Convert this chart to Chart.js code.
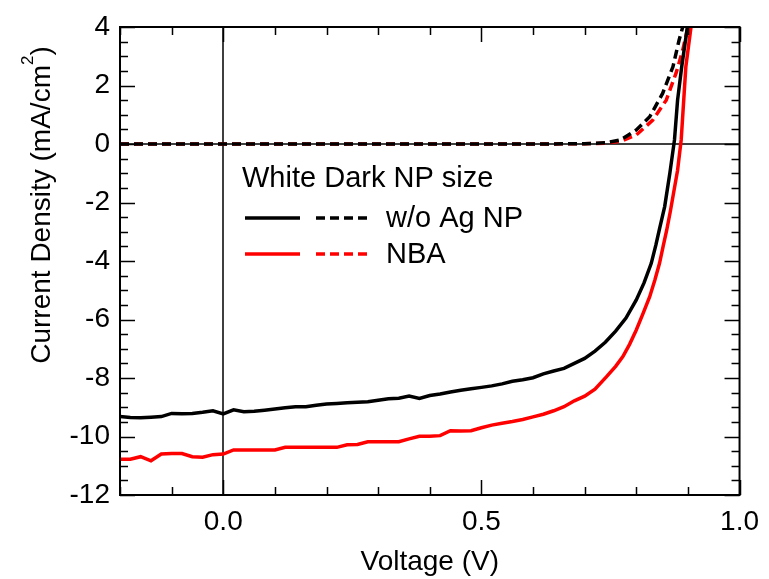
<!DOCTYPE html>
<html>
<head>
<meta charset="utf-8">
<script src="https://cdn.jsdelivr.net/npm/chart.js@4.4.1/dist/chart.umd.min.js"></script>
<style>
  html, body { margin: 0; padding: 0; background: #fff; }
</style>
</head>
<body>
<canvas id="jvChart" width="769" height="579"></canvas>
<script>
// J-V curves (V in volts, J in mA/cm2)
const vBlackLight = [-0.2, -0.18, -0.16, -0.14, -0.12, -0.10, -0.08, -0.06, -0.04, -0.02, 0.00, 0.02, 0.04, 0.06, 0.08, 0.10, 0.12, 0.14, 0.16, 0.18, 0.20, 0.22, 0.24, 0.26, 0.28, 0.30, 0.32, 0.34, 0.36, 0.38, 0.40, 0.42, 0.44, 0.46, 0.48, 0.50, 0.52, 0.54, 0.56, 0.58, 0.60, 0.62, 0.64, 0.66, 0.68, 0.70, 0.72, 0.74, 0.76, 0.78, 0.80, 0.815, 0.829, 0.838, 0.845, 0.855, 0.865, 0.874, 0.88, 0.888, 0.899];
const jBlackLight = [-9.32, -9.35, -9.36, -9.34, -9.32, -9.21, -9.22, -9.21, -9.17, -9.12, -9.23, -9.09, -9.15, -9.14, -9.10, -9.06, -9.02, -8.98, -8.98, -8.93, -8.89, -8.87, -8.85, -8.83, -8.81, -8.76, -8.71, -8.69, -8.62, -8.70, -8.60, -8.55, -8.48, -8.42, -8.37, -8.32, -8.27, -8.20, -8.11, -8.06, -7.99, -7.86, -7.76, -7.67, -7.50, -7.33, -7.08, -6.78, -6.40, -5.95, -5.33, -4.75, -4.08, -3.45, -2.90, -2.14, -1.00, 0.14, 1.50, 2.64, 4.00];

const vRedLight = [-0.2, -0.18, -0.16, -0.14, -0.12, -0.10, -0.08, -0.06, -0.04, -0.02, 0.00, 0.02, 0.04, 0.06, 0.08, 0.10, 0.12, 0.14, 0.16, 0.18, 0.20, 0.22, 0.24, 0.26, 0.28, 0.30, 0.32, 0.34, 0.36, 0.38, 0.40, 0.42, 0.44, 0.46, 0.48, 0.50, 0.52, 0.54, 0.56, 0.58, 0.60, 0.62, 0.64, 0.66, 0.68, 0.70, 0.72, 0.742, 0.76, 0.774, 0.787, 0.80, 0.813, 0.826, 0.836, 0.845, 0.852, 0.859, 0.866, 0.873, 0.880, 0.887, 0.896, 0.906];
const jRedLight = [-10.78, -10.78, -10.69, -10.83, -10.60, -10.58, -10.58, -10.69, -10.71, -10.62, -10.60, -10.46, -10.46, -10.46, -10.46, -10.46, -10.37, -10.37, -10.37, -10.37, -10.37, -10.37, -10.28, -10.27, -10.18, -10.18, -10.18, -10.18, -10.08, -9.99, -9.99, -9.97, -9.80, -9.81, -9.80, -9.70, -9.61, -9.55, -9.49, -9.42, -9.33, -9.24, -9.12, -8.98, -8.78, -8.62, -8.38, -7.96, -7.60, -7.27, -6.85, -6.36, -5.80, -5.22, -4.65, -4.08, -3.50, -2.94, -2.30, -1.60, -0.90, 0.14, 2.64, 4.00];

const vBlackDark = [-0.2, 0.0, 0.2, 0.4, 0.6, 0.70, 0.74, 0.77, 0.80, 0.826, 0.851, 0.871, 0.883, 0.89];
const jBlackDark = [0, 0, 0, 0, 0, 0.01, 0.04, 0.14, 0.48, 0.93, 1.73, 2.64, 3.56, 4.00];

const vRedDark = [-0.2, 0.0, 0.2, 0.4, 0.6, 0.70, 0.74, 0.77, 0.80, 0.832, 0.858, 0.877, 0.89, 0.90];
const jRedDark = [0, 0, 0, 0, 0, 0.01, 0.03, 0.09, 0.31, 0.82, 1.50, 2.42, 3.21, 4.00];

const xTickValues = [0.0, 0.5, 1.0];
const legendTitle = 'White Dark NP size';
const seriesNames = ['w/o Ag NP', 'NBA'];
const seriesColors = ['#000000', '#ff0000'];

const FONT = '"Liberation Sans", Arial, Helvetica, sans-serif';
const DASH = [9, 5];
const LW = 3.5;

function pts(xs, ys) {
  return xs.map((x, i) => ({ x: x, y: ys[i] }));
}

// zero lines under the curves, frame / ticks / legend / titles on top
const decor = {
  id: 'decor',
  beforeDatasetsDraw(chart) {
    const { ctx, chartArea: a, scales: { x, y } } = chart;
    ctx.save();
    ctx.strokeStyle = '#000';
    ctx.lineWidth = 1.5;
    ctx.beginPath();
    const x0 = Math.round(x.getPixelForValue(0));
    const y0 = Math.round(y.getPixelForValue(0));
    ctx.moveTo(x0, a.top); ctx.lineTo(x0, a.bottom);
    ctx.moveTo(a.left, y0); ctx.lineTo(a.right, y0);
    ctx.stroke();
    ctx.restore();
  },
  afterDatasetsDraw(chart) {
    const { ctx, chartArea: a, scales: { x, y } } = chart;
    ctx.save();
    ctx.strokeStyle = '#000';
    ctx.lineWidth = 2;
    ctx.strokeRect(a.left, a.top, a.right - a.left, a.bottom - a.top);

    // inward ticks, mirrored on top and right
    ctx.lineWidth = 1.5;
    ctx.beginPath();
    for (let k = -2; k <= 10; k++) {
      const px = Math.round(x.getPixelForValue(k / 10)) + 0.5;
      const len = (k % 5 === 0) ? 15 : 8;
      ctx.moveTo(px, a.bottom); ctx.lineTo(px, a.bottom - len);
      ctx.moveTo(px, a.top); ctx.lineTo(px, a.top + len);
    }
    for (let k = -24; k <= 8; k++) {
      const py = Math.round(y.getPixelForValue(k / 2)) + 0.5;
      const len = (k % 4 === 0) ? 15 : 8;
      ctx.moveTo(a.left, py); ctx.lineTo(a.left + len, py);
      ctx.moveTo(a.right, py); ctx.lineTo(a.right - len, py);
    }
    ctx.stroke();

    // legend
    ctx.fillStyle = '#000';
    ctx.font = '29px ' + FONT;
    ctx.textAlign = 'left';
    ctx.textBaseline = 'alphabetic';
    ctx.fillText(legendTitle, 242, 187);
    const rows = [218, 254];
    ctx.lineWidth = LW;
    seriesNames.forEach((name, i) => {
      const ry = rows[i];
      ctx.strokeStyle = seriesColors[i];
      ctx.setLineDash([]);
      ctx.beginPath(); ctx.moveTo(245, ry); ctx.lineTo(300, ry); ctx.stroke();
      ctx.setLineDash(DASH);
      ctx.beginPath(); ctx.moveTo(316, ry); ctx.lineTo(372, ry); ctx.stroke();
      ctx.setLineDash([]);
      ctx.fillStyle = '#000';
      ctx.fillText(name, 386, ry + 9);
    });

    // axis titles
    ctx.font = '28px ' + FONT;
    ctx.textAlign = 'center';
    ctx.fillText('Voltage (V)', (a.left + a.right) / 2, 570);

    const main = 'Current Density (mA/cm';
    const tail = ')';
    ctx.font = '28px ' + FONT;
    const w1 = ctx.measureText(main).width;
    const w3 = ctx.measureText(tail).width;
    ctx.font = '17px ' + FONT;
    const w2 = ctx.measureText('2').width;
    const total = w1 + w2 + w3;
    ctx.translate(50, 205 + total / 2);
    ctx.rotate(-Math.PI / 2);
    ctx.textAlign = 'left';
    ctx.font = '28px ' + FONT;
    ctx.fillText(main, 0, 0);
    ctx.font = '17px ' + FONT;
    ctx.fillText('2', w1, -17);
    ctx.font = '28px ' + FONT;
    ctx.fillText(tail, w1 + w2, 0);
    ctx.restore();
  }
};

const ctx = document.getElementById('jvChart');

const config = {
  type: 'line',
  data: {
    datasets: [
      { label: seriesNames[0] + ' white', data: pts(vBlackLight, jBlackLight), borderColor: seriesColors[0], borderWidth: LW },
      { label: seriesNames[1] + ' white', data: pts(vRedLight, jRedLight), borderColor: seriesColors[1], borderWidth: LW },
      { label: seriesNames[0] + ' dark', data: pts(vBlackDark, jBlackDark), borderColor: seriesColors[0], borderWidth: LW, borderDash: DASH },
      { label: seriesNames[1] + ' dark', data: pts(vRedDark, jRedDark), borderColor: seriesColors[1], borderWidth: LW, borderDash: DASH }
    ]
  },
  options: {
    responsive: false,
    animation: false,
    elements: { point: { radius: 0 }, line: { tension: 0 } },
    layout: { padding: { left: 0, right: 25, top: 27, bottom: 0 } },
    plugins: { legend: { display: false }, tooltip: { enabled: false } },
    scales: {
      x: {
        type: 'linear',
        min: -0.2,
        max: 1.0,
        afterBuildTicks: s => { s.ticks = xTickValues.map(v => ({ value: v })); },
        afterFit: s => { s.height = 84; },
        grid: { display: false, drawTicks: false },
        border: { display: false },
        ticks: {
          color: '#000',
          font: { size: 28, family: FONT },
          padding: 10,
          maxRotation: 0,
          autoSkip: false,
          callback: v => Number(v).toFixed(1)
        }
      },
      y: {
        min: -12,
        max: 4,
        afterFit: s => { s.width = 120; },
        grid: { display: false, drawTicks: false },
        border: { display: false },
        ticks: {
          color: '#000',
          font: { size: 28, family: FONT },
          stepSize: 2,
          padding: 10
        }
      }
    }
  },
  plugins: [decor]
};

const jvPlot = new Chart(ctx, config);
</script>
</body>
</html>
